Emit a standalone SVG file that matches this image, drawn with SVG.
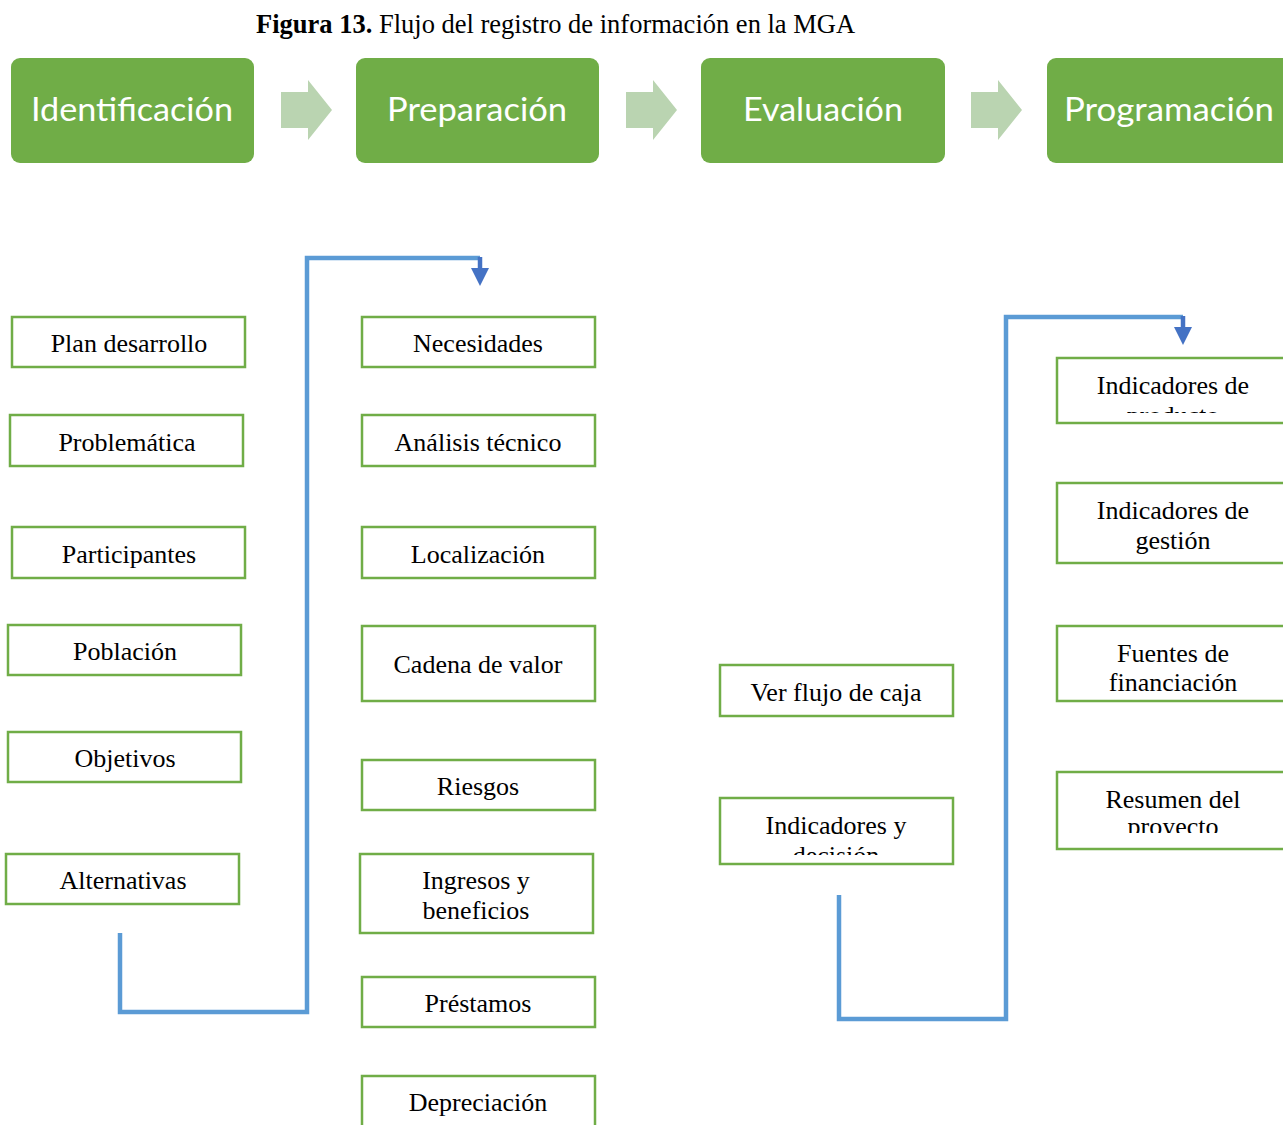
<svg xmlns="http://www.w3.org/2000/svg" width="1283" height="1125" viewBox="0 0 1283 1125">
  <style>
    .stage { fill: #70AD47; }
    .stage-t { font-family: Lato, "Open Sans", sans-serif; font-size: 33px; fill: #FFFFFF; text-anchor: middle; }
    .chev { fill: #BAD4B1; }
    .box { fill: #FFFFFF; stroke: #70AD47; stroke-width: 2.5; }
    .box-t { font-family: "Liberation Serif", "Times New Roman", serif; font-size: 26px; fill: #000000; text-anchor: middle; }
    .title { font-family: "Liberation Serif", "Times New Roman", serif; font-size: 26.5px; fill: #000000; }
    .flow { fill: none; stroke: #5B9BD5; stroke-width: 4.5; }
    .head { fill: #4472C4; }
    .stem { fill: none; stroke: #4472C4; stroke-width: 4.5; }
  </style>
  <defs>
    <clipPath id="clip-prod"><rect x="1057" y="358" width="226" height="55"/></clipPath>
    <clipPath id="clip-fin"><rect x="1057" y="626" width="226" height="67"/></clipPath>
    <clipPath id="clip-res"><rect x="1057" y="772" width="226" height="61"/></clipPath>
    <clipPath id="clip-dec"><rect x="720" y="798" width="233" height="57"/></clipPath>
  </defs>

  <rect width="1283" height="1125" fill="#FFFFFF"/>

  <!-- Caption -->
  <text class="title" x="256" y="33"><tspan font-weight="bold">Figura 13.</tspan> Flujo del registro de información en la MGA</text>

  <!-- Stage band -->
  <g id="stage-identificacion">
    <rect class="stage" x="11" y="58" width="243" height="105" rx="9"/>
    <text class="stage-t" x="132" y="121" textLength="202" lengthAdjust="spacingAndGlyphs">Identificación</text>
  </g>
  <g id="stage-preparacion">
    <rect class="stage" x="356" y="58" width="243" height="105" rx="9"/>
    <text class="stage-t" x="477" y="121" textLength="180" lengthAdjust="spacingAndGlyphs">Preparación</text>
  </g>
  <g id="stage-evaluacion">
    <rect class="stage" x="701" y="58" width="244" height="105" rx="9"/>
    <text class="stage-t" x="823" y="121" textLength="160" lengthAdjust="spacingAndGlyphs">Evaluación</text>
  </g>
  <g id="stage-programacion">
    <rect class="stage" x="1047" y="58" width="250" height="105" rx="9"/>
    <text class="stage-t" x="1169" y="121" textLength="210" lengthAdjust="spacingAndGlyphs">Programación</text>
  </g>

  <g id="stage-arrows">
    <path class="chev" d="M281,92 H308 V80 L332,110 L308,140 V128 H281 Z"/>
    <path class="chev" d="M626,92 H653 V80 L677,110 L653,140 V128 H626 Z"/>
    <path class="chev" d="M971,92 H998 V80 L1022,110 L998,140 V128 H971 Z"/>
  </g>

  <!-- Connectors -->
  <g id="connectors">
    <path class="flow" d="M120,933 V1012 H307 V258 H480"/>
    <path class="stem" d="M480,257 V270"/>
    <path class="head" d="M471,268 H489 L480,286 Z"/>
    <path class="flow" d="M839,895 V1019 H1006 V317 H1183"/>
    <path class="stem" d="M1183,316 V329"/>
    <path class="head" d="M1174,327 H1192 L1183,345 Z"/>
  </g>

  <!-- Identificación column -->
  <g id="plan-desarrollo">
    <rect class="box" x="12" y="317" width="233" height="50"/>
    <text class="box-t" x="129" y="352">Plan desarrollo</text>
  </g>
  <g id="problematica">
    <rect class="box" x="10" y="415" width="233" height="51"/>
    <text class="box-t" x="127" y="451">Problemática</text>
  </g>
  <g id="participantes">
    <rect class="box" x="12" y="527" width="233" height="51"/>
    <text class="box-t" x="129" y="563">Participantes</text>
  </g>
  <g id="poblacion">
    <rect class="box" x="8" y="625" width="233" height="50"/>
    <text class="box-t" x="125" y="660">Población</text>
  </g>
  <g id="objetivos">
    <rect class="box" x="8" y="732" width="233" height="50"/>
    <text class="box-t" x="125" y="767">Objetivos</text>
  </g>
  <g id="alternativas">
    <rect class="box" x="6" y="854" width="233" height="50"/>
    <text class="box-t" x="123" y="889">Alternativas</text>
  </g>

  <!-- Preparación column -->
  <g id="necesidades">
    <rect class="box" x="362" y="317" width="233" height="50"/>
    <text class="box-t" x="478" y="352">Necesidades</text>
  </g>
  <g id="analisis-tecnico">
    <rect class="box" x="362" y="415" width="233" height="51"/>
    <text class="box-t" x="478" y="451">Análisis técnico</text>
  </g>
  <g id="localizacion">
    <rect class="box" x="362" y="527" width="233" height="51"/>
    <text class="box-t" x="478" y="563">Localización</text>
  </g>
  <g id="cadena-de-valor">
    <rect class="box" x="362" y="626" width="233" height="75"/>
    <text class="box-t" x="478" y="673">Cadena de valor</text>
  </g>
  <g id="riesgos">
    <rect class="box" x="362" y="760" width="233" height="50"/>
    <text class="box-t" x="478" y="795">Riesgos</text>
  </g>
  <g id="ingresos-beneficios">
    <rect class="box" x="360" y="854" width="233" height="79"/>
    <text class="box-t" x="476" y="889">Ingresos y</text>
    <text class="box-t" x="476" y="919">beneficios</text>
  </g>
  <g id="prestamos">
    <rect class="box" x="362" y="977" width="233" height="50"/>
    <text class="box-t" x="478" y="1012">Préstamos</text>
  </g>
  <g id="depreciacion">
    <rect class="box" x="362" y="1076" width="233" height="60"/>
    <text class="box-t" x="478" y="1111">Depreciación</text>
  </g>

  <!-- Evaluación column -->
  <g id="ver-flujo-de-caja">
    <rect class="box" x="720" y="665" width="233" height="51"/>
    <text class="box-t" x="836" y="701">Ver flujo de caja</text>
  </g>
  <g id="indicadores-decision">
    <rect class="box" x="720" y="798" width="233" height="66"/>
    <g clip-path="url(#clip-dec)">
      <text class="box-t" x="836" y="834">Indicadores y</text>
      <text class="box-t" x="836" y="864">decisión</text>
    </g>
  </g>

  <!-- Programación column -->
  <g id="indicadores-producto">
    <rect class="box" x="1057" y="358" width="240" height="65"/>
    <g clip-path="url(#clip-prod)">
      <text class="box-t" x="1173" y="394">Indicadores de</text>
      <text class="box-t" x="1173" y="424">producto</text>
    </g>
  </g>
  <g id="indicadores-gestion">
    <rect class="box" x="1057" y="483" width="240" height="80"/>
    <text class="box-t" x="1173" y="519">Indicadores de</text>
    <text class="box-t" x="1173" y="549">gestión</text>
  </g>
  <g id="fuentes-financiacion">
    <rect class="box" x="1057" y="626" width="240" height="75"/>
    <g clip-path="url(#clip-fin)">
      <text class="box-t" x="1173" y="662">Fuentes de</text>
      <text class="box-t" x="1173" y="691">financiación</text>
    </g>
  </g>
  <g id="resumen-proyecto">
    <rect class="box" x="1057" y="772" width="240" height="77"/>
    <g clip-path="url(#clip-res)">
      <text class="box-t" x="1173" y="808">Resumen del</text>
      <text class="box-t" x="1173" y="835">proyecto</text>
    </g>
  </g>
</svg>
